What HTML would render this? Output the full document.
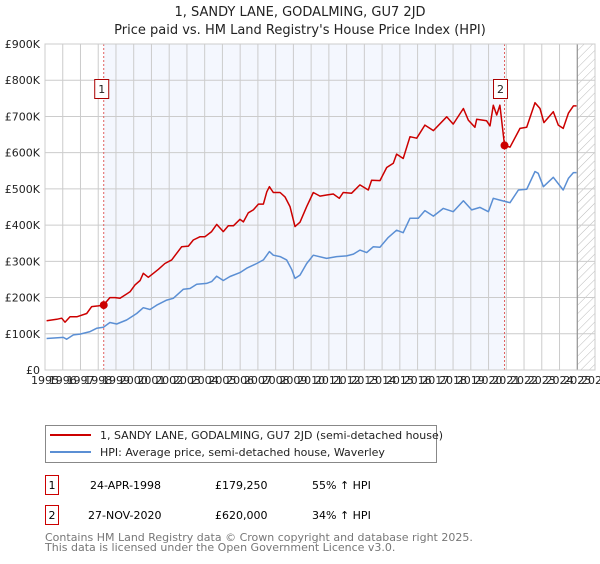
<!DOCTYPE html>
<html><head><meta charset="utf-8"><style>
body{margin:0;background:#fff;font-family:"DejaVu Sans","Liberation Sans",sans-serif;}
svg text{font-family:"DejaVu Sans","Liberation Sans",sans-serif;}
</style></head><body>
<svg id="chart" width="600" height="560" viewBox="0 0 600 560" xmlns="http://www.w3.org/2000/svg">
<defs>
<pattern id="hatch" width="6" height="6" patternUnits="userSpaceOnUse" patternTransform="rotate(45)">
<line x1="0" y1="0" x2="0" y2="6" stroke="#bbb" stroke-width="1"/></pattern>
</defs>
<text x="300" y="16" text-anchor="middle" font-size="13" fill="#222">1, SANDY LANE, GODALMING, GU7 2JD</text>
<text x="300" y="34" text-anchor="middle" font-size="13" fill="#222">Price paid vs. HM Land Registry's House Price Index (HPI)</text>
<g id="plot"></g>
<g>
<rect x="45.5" y="425.5" width="391" height="37" fill="#fff" stroke="#888"/>
<line x1="50" y1="435" x2="91" y2="435" stroke="#cc0000" stroke-width="2"/>
<text x="100" y="439" font-size="11" fill="#222">1, SANDY LANE, GODALMING, GU7 2JD (semi-detached house)</text>
<line x1="50" y1="452" x2="91" y2="452" stroke="#5b8fd4" stroke-width="2"/>
<text x="100" y="456" font-size="11" fill="#222">HPI: Average price, semi-detached house, Waverley</text>
</g>
<g>
<rect x="45.5" y="475.5" width="13" height="19" fill="#fff" stroke="#cc0000"/>
<text x="52" y="489" text-anchor="middle" font-size="11">1</text>
<text x="90" y="489" font-size="11">24-APR-1998</text>
<text x="215" y="489" font-size="11">£179,250</text>
<text x="312" y="489" font-size="11">55% ↑ HPI</text>
<rect x="45.5" y="505.5" width="13" height="19" fill="#fff" stroke="#cc0000"/>
<text x="52" y="519" text-anchor="middle" font-size="11">2</text>
<text x="88" y="519" font-size="11">27-NOV-2020</text>
<text x="215" y="519" font-size="11">£620,000</text>
<text x="312" y="519" font-size="11">34% ↑ HPI</text>
</g>
<text x="45" y="541" font-size="11" fill="#777">Contains HM Land Registry data © Crown copyright and database right 2025.</text>
<text x="45" y="551" font-size="11" fill="#777">This data is licensed under the Open Government Licence v3.0.</text>
</svg>
<script>
const yTicks=[0,100,200,300,400,500,600,700,800,900];
const yTickLabels=["£0","£100K","£200K","£300K","£400K","£500K","£600K","£700K","£800K","£900K"];
const xYears=[1995,1996,1997,1998,1999,2000,2001,2002,2003,2004,2005,2006,2007,2008,2009,2010,2011,2012,2013,2014,2015,2016,2017,2018,2019,2020,2021,2022,2023,2024,2025,2026];
const saleYears=[1998.31,2020.9];
const salePrices=[179.25,620];
const saleLabels=["1","2"];
const redYears=[1995.09,1995.66,1995.94,1996.13,1996.41,1996.79,1997.35,1997.63,1998.0,1998.29,1998.66,1998.95,1999.23,1999.79,2000.07,2000.36,2000.54,2000.82,2001.11,2001.39,2001.76,2002.14,2002.42,2002.7,2003.08,2003.36,2003.74,2004.02,2004.39,2004.68,2005.05,2005.33,2005.62,2005.99,2006.18,2006.46,2006.74,2007.03,2007.31,2007.5,2007.65,2007.87,2008.25,2008.53,2008.81,2009.09,2009.37,2009.75,2010.12,2010.5,2010.87,2011.25,2011.59,2011.81,2012.28,2012.75,2013.22,2013.41,2013.88,2014.26,2014.63,2014.82,2015.19,2015.57,2015.95,2016.41,2016.89,2017.64,2018.01,2018.58,2018.86,2019.23,2019.33,2019.89,2020.08,2020.27,2020.46,2020.64,2020.9,2021.21,2021.77,2022.15,2022.62,2022.9,2023.12,2023.65,2023.93,2024.21,2024.5,2024.78,2024.96];
const redValues=[136,140,143,132,147,147,156,175,177,179,200,200,198,216,235,247,267,256,267,278,294,304,322,340,342,359,368,368,382,402,382,398,398,416,409,434,442,458,458,492,506,490,490,478,451,396,408,451,490,480,483,486,474,490,488,511,497,524,523,559,571,596,584,644,640,676,661,699,679,722,690,670,692,688,674,731,704,731,621,615,667,670,738,722,683,713,676,667,709,729,729];
const blueYears=[1995.09,1996.03,1996.22,1996.6,1996.97,1997.54,1997.91,1998.29,1998.66,1999.04,1999.6,2000.17,2000.54,2000.92,2001.29,2001.86,2002.23,2002.8,2003.17,2003.55,2004.11,2004.39,2004.68,2005.05,2005.43,2005.99,2006.37,2006.93,2007.31,2007.65,2007.87,2008.25,2008.62,2008.9,2009.09,2009.37,2009.75,2010.12,2010.87,2011.44,2012.0,2012.38,2012.75,2013.13,2013.5,2013.88,2014.35,2014.82,2015.19,2015.57,2016.04,2016.41,2016.89,2017.45,2018.01,2018.58,2019.05,2019.52,2019.99,2020.27,2020.64,2021.21,2021.68,2022.15,2022.62,2022.8,2023.09,2023.65,2024.21,2024.5,2024.78,2024.96];
const blueValues=[87,90,85,97,99,106,115,118,131,127,138,156,172,167,179,193,198,223,225,237,239,244,259,247,258,269,281,294,304,327,317,313,304,278,253,262,294,317,308,313,315,320,331,324,340,339,366,386,379,419,419,440,425,446,437,467,442,449,437,474,469,462,497,499,548,543,506,532,497,529,545,545];

const NS="http://www.w3.org/2000/svg";
const L=45,R=595,T=44,B=370,Y0=1995,Y1=2026,VMAX=900;
const xs=y=>L+(y-Y0)/(Y1-Y0)*(R-L);
const ys=v=>B-v/VMAX*(B-T);
const plot=document.getElementById('plot');
function mk(tag,attrs,parent){const e=document.createElementNS(NS,tag);for(const k in attrs)e.setAttribute(k,attrs[k]);(parent||plot).appendChild(e);return e;}

let shade=mk('rect',{x:xs(saleYears[0]),y:T,width:xs(saleYears[1])-xs(saleYears[0]),height:B-T,fill:'#f4f7fe'});


let hatch=mk('rect',{x:xs(2025),y:T,width:R-xs(2025),height:B-T,fill:'url(#hatch)'});



xYears.forEach(y=>{
  const g=mk('line',{x1:xs(y),x2:xs(y),y1:T,y2:B,stroke:'#ccc','stroke-width':1});
  
  
  const t=mk('text',{x:xs(y),y:B+14,'font-size':11,fill:'#222','text-anchor':'middle'});
  t.textContent=y;
  
  
});
yTicks.forEach((v,i)=>{
  const g=mk('line',{x1:L,x2:R,y1:ys(v),y2:ys(v),stroke:'#ccc','stroke-width':1});
  
  
  const t=mk('text',{x:40,y:ys(v)+4,'font-size':11,fill:'#222','text-anchor':'end'});
  t.textContent=yTickLabels[i];
  
  
});
let nowLine=mk('line',{x1:xs(2025),x2:xs(2025),y1:T,y2:B,stroke:'#888','stroke-width':1});



saleYears.forEach((y,i)=>{
  const l=mk('line',{x1:xs(y),x2:xs(y),y1:T,y2:B,stroke:'#e06060','stroke-width':1,'stroke-dasharray':'2,2'});
  
  
});

function path(xa,va,color,name){
  const d=xa.map((y,i)=>(i?'L':'M')+xs(y).toFixed(1)+','+ys(va[i]).toFixed(1)).join('');
  const p=mk('path',{d:d,fill:'none',stroke:color,'stroke-width':1.5,'stroke-linejoin':'round'});
  
  
}
path(blueYears,blueValues,'#5b8fd4','hpi-line');
path(redYears,redValues,'#cc0000','property-price-line');

saleYears.forEach((y,i)=>{
  const c=mk('circle',{cx:xs(y),cy:ys(salePrices[i]),r:4,fill:'#cc0000'});
  
  
  const bx=xs(y)-7-(i?4:2);
  const r=mk('rect',{x:bx,y:79.5,width:14,height:19,fill:'#fff',stroke:'#aa0000'});
  
  
  const t=mk('text',{x:bx+7,y:93,'font-size':11,fill:'#222','text-anchor':'middle'});
  t.textContent=saleLabels[i];
  
  
});
let frame=mk('rect',{x:L,y:T,width:R-L,height:B-T,fill:'none',stroke:'#ccc'});


</script>
</body></html>
